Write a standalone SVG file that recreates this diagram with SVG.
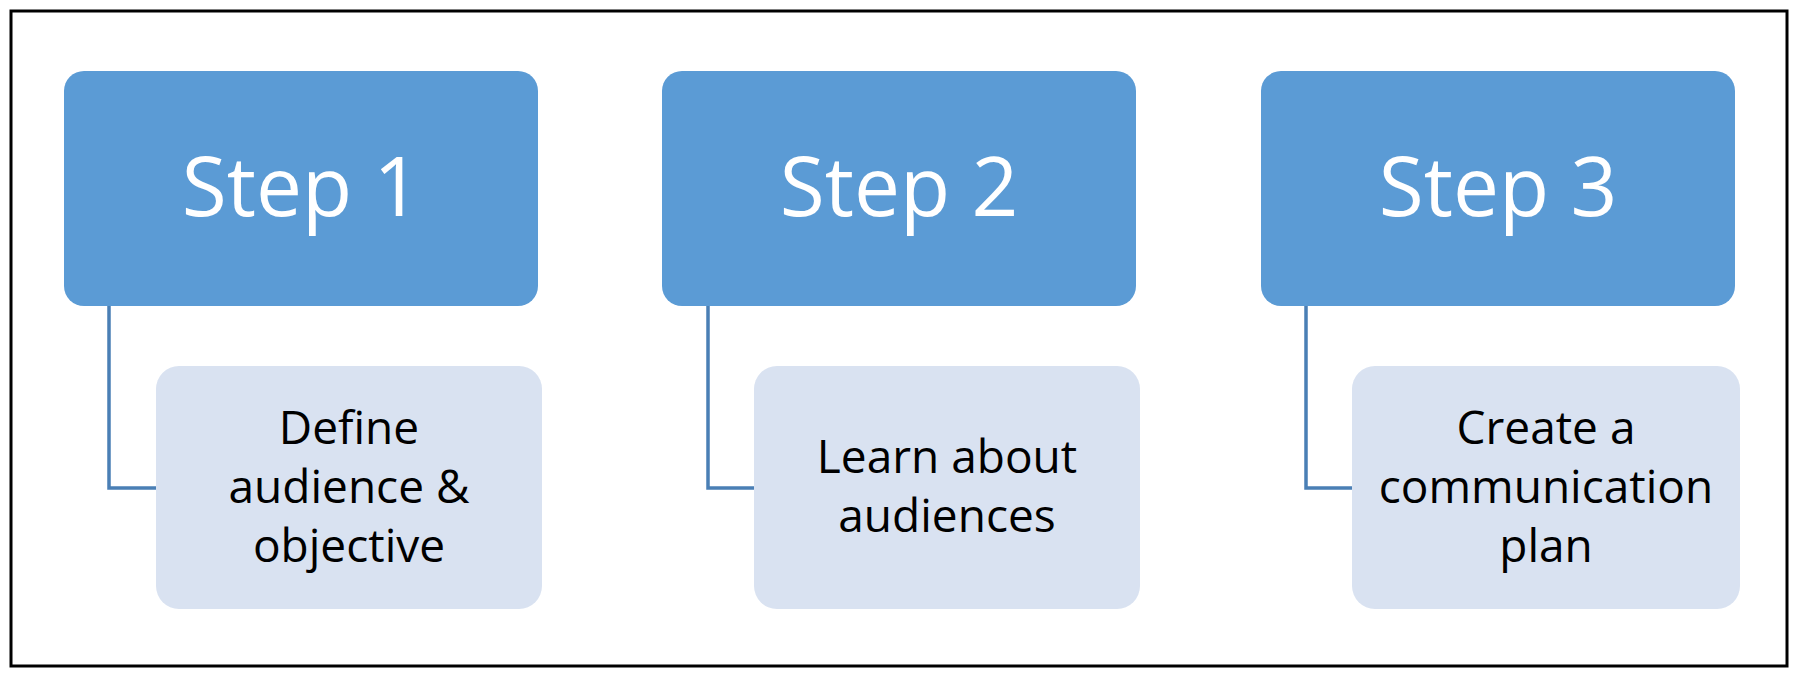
<svg xmlns="http://www.w3.org/2000/svg" width="1800" height="676" viewBox="0 0 1800 676">
<style>
.step{fill:#5b9bd5;}
.sub{fill:#d9e2f1;}
.st{font-family:"Open Sans","Liberation Sans",sans-serif;font-size:82px;fill:#ffffff;text-anchor:middle;}
.tx{font-family:"Open Sans","Liberation Sans",sans-serif;font-size:46px;fill:#000000;text-anchor:middle;}
.conn{fill:none;stroke:#4a7fb5;stroke-width:3.5;}
</style>
<rect x="0" y="0" width="1800" height="676" fill="#ffffff"/>
<rect x="11" y="11" width="1776" height="655" fill="none" stroke="#000000" stroke-width="3"/>
<g id="connectors">
<path class="conn" d="M109,306 V488 H156"/>
<path class="conn" d="M708,306 V488 H754"/>
<path class="conn" d="M1306,306 V488 H1352"/>
</g>
<g id="step1">
<rect class="step" x="64" y="71" width="474" height="235" rx="20"/>
<text class="st" x="301" y="216">Step 1</text>
</g>
<g id="step2">
<rect class="step" x="662" y="71" width="474" height="235" rx="20"/>
<text class="st" x="899" y="216">Step 2</text>
</g>
<g id="step3">
<rect class="step" x="1261" y="71" width="474" height="235" rx="20"/>
<text class="st" x="1498" y="216">Step 3</text>
</g>
<g id="sub1">
<rect class="sub" x="156" y="366" width="386" height="243" rx="23"/>
<text class="tx" x="349" y="444">Define</text>
<text class="tx" x="349" y="503">audience &amp;</text>
<text class="tx" x="349" y="562">objective</text>
</g>
<g id="sub2">
<rect class="sub" x="754" y="366" width="386" height="243" rx="23"/>
<text class="tx" x="947" y="473">Learn about</text>
<text class="tx" x="947" y="532">audiences</text>
</g>
<g id="sub3">
<rect class="sub" x="1352" y="366" width="388" height="243" rx="23"/>
<text class="tx" x="1546" y="444">Create a</text>
<text class="tx" x="1546" y="503">communication</text>
<text class="tx" x="1546" y="562">plan</text>
</g>
</svg>
